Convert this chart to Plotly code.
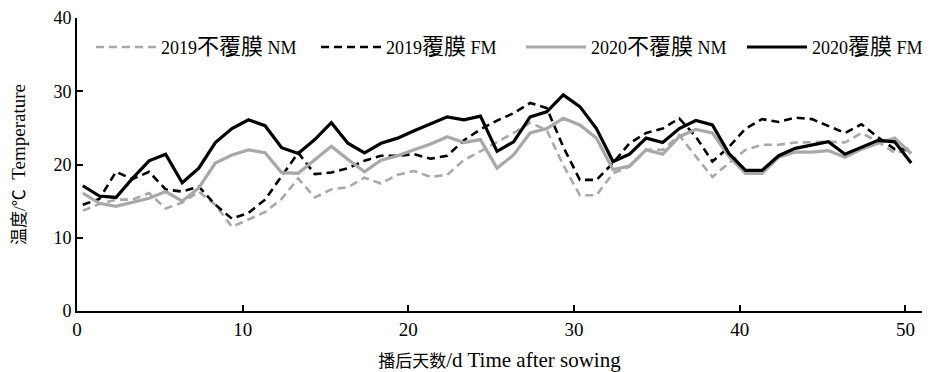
import plotly.graph_objects as go

days = [0.35 + i for i in range(51)]

nm2019 = [13.7, 14.6, 15.2, 15.2, 16.1, 14.0, 14.8, 16.3, 14.5, 11.5,
          12.5, 13.5, 15.3, 18.1, 15.5, 16.6, 16.9, 18.2, 17.4, 18.6,
          19.1, 18.3, 18.6, 20.6, 21.8, 23.0, 24.3, 25.7, 24.7, 19.9,
          15.8, 15.8, 18.8, 19.7, 22.0, 22.0, 24.0, 21.1, 18.3, 20.2,
          22.0, 22.7, 22.7, 23.0, 23.1, 23.1, 23.0, 24.3, 23.1, 21.6, 22.0]
fm2019 = [14.5, 15.3, 19.0, 18.0, 19.0, 16.6, 16.3, 17.0, 14.5, 12.6,
          13.4, 15.2, 18.4, 21.6, 18.7, 18.9, 19.5, 20.5, 21.2, 21.2,
          21.4, 20.8, 21.2, 23.3, 24.8, 26.0, 27.0, 28.4, 27.7, 22.4,
          17.9, 17.9, 20.2, 22.9, 24.3, 24.9, 26.3, 23.8, 20.4, 22.4,
          24.9, 26.2, 25.8, 26.4, 26.2, 25.3, 24.3, 25.5, 23.7, 22.1, 22.1]
nm2020 = [16.1, 14.7, 14.3, 14.9, 15.4, 16.3, 15.0, 16.8, 20.2, 21.3,
          22.0, 21.6, 18.9, 18.8, 20.7, 22.5, 20.7, 19.0, 20.6, 21.2,
          22.0, 22.8, 23.8, 23.0, 23.4, 19.5, 21.3, 24.3, 24.9, 26.3,
          25.4, 23.6, 19.3, 19.8, 22.0, 21.4, 23.8, 24.8, 24.3, 21.1,
          18.8, 18.8, 21.0, 21.7, 21.7, 21.9, 21.0, 22.1, 22.9, 23.6, 21.5]
fm2020 = [17.1, 15.7, 15.5, 18.1, 20.5, 21.4, 17.5, 19.5, 23.0, 24.9,
          26.1, 25.3, 22.3, 21.5, 23.4, 25.7, 22.9, 21.6, 22.9, 23.6,
          24.6, 25.5, 26.5, 26.1, 26.6, 21.8, 23.1, 26.5, 27.2, 29.5,
          27.9, 24.9, 20.4, 21.4, 23.6, 23.0, 24.9, 26.0, 25.4, 21.5,
          19.2, 19.2, 21.2, 22.2, 22.7, 23.1, 21.4, 22.4, 23.3, 23.1, 20.2]

year_labels = ["2019", "2019", "2020", "2020"]
cn_labels = ["不覆膜", "覆膜", "不覆膜", "覆膜"]
en_labels = ["NM", "FM", "NM", "FM"]
x_ticks = [0, 10, 20, 30, 40, 50]
y_ticks = [0, 10, 20, 30, 40]
x_title_cn, x_title_en = "播后天数", "/d Time after sowing"
y_title_cn, y_title_en = "温度/℃", "  Temperature"

FONT = "Liberation Serif, Times New Roman, Noto Sans CJK SC, serif"
GRAY = "#a8a8a8"

fig = go.Figure()
styles = [
    (nm2019, dict(color=GRAY, width=2.6, dash="8px,5px")),
    (fm2019, dict(color="black", width=2.6, dash="8px,5px")),
    (nm2020, dict(color=GRAY, width=3.2)),
    (fm2020, dict(color="black", width=3.2)),
]
legend_ids = ["legend", "legend2", "legend3", "legend4"]
for k, (vals, line) in enumerate(styles):
    name = f"{year_labels[k]}<span style='font-size:22px'>{cn_labels[k]}</span> {en_labels[k]}"
    fig.add_trace(go.Scatter(x=days, y=vals, mode="lines", name=name, line=line,
                             legend=legend_ids[k]))

# page body has an 8px margin, so the figure is 8px smaller than the window
PLOT_L, PLOT_W = 77, 845
legend_pos = [91, 316, 521, 742]
legend_layout = {}
for lid, px in zip(legend_ids, legend_pos):
    legend_layout[lid] = dict(orientation="h", x=(px - PLOT_L) / PLOT_W, y=0.90,
                              xanchor="left", yanchor="middle",
                              font=dict(family=FONT, size=18),
                              bgcolor="rgba(255,255,255,0)", itemwidth=60)

fig.update_layout(
    width=923, height=364,
    margin=dict(l=69, r=9, t=10, b=61, autoexpand=False),
    paper_bgcolor="white", plot_bgcolor="white",
    font=dict(family=FONT, size=18, color="black"),
    showlegend=True,
    **legend_layout,
    xaxis=dict(range=[0, 51], tickmode="array", tickvals=x_ticks,
               ticks="inside", ticklen=6, tickwidth=1.5, tickcolor="black",
               showline=True, linecolor="black", linewidth=2, showgrid=False,
               zeroline=False, tickfont=dict(size=19), automargin=False,
               ticklabeloverflow="allow",
               title=dict(text=f"<span style='font-size:17px'>{x_title_cn}</span>{x_title_en}",
                          font=dict(size=21), standoff=14)),
    yaxis=dict(range=[0, 40], tickmode="array", tickvals=y_ticks,
               ticks="inside", ticklen=6, tickwidth=1.5, tickcolor="black",
               showline=True, linecolor="black", linewidth=2, showgrid=False,
               zeroline=False, tickfont=dict(size=18), automargin=False,
               ticklabeloverflow="allow",
               title=dict(text=f"<span style='font-size:17px'>{y_title_cn}</span>{y_title_en}",
                          font=dict(size=19), standoff=24)),
)

fig.write_html("out.html")
